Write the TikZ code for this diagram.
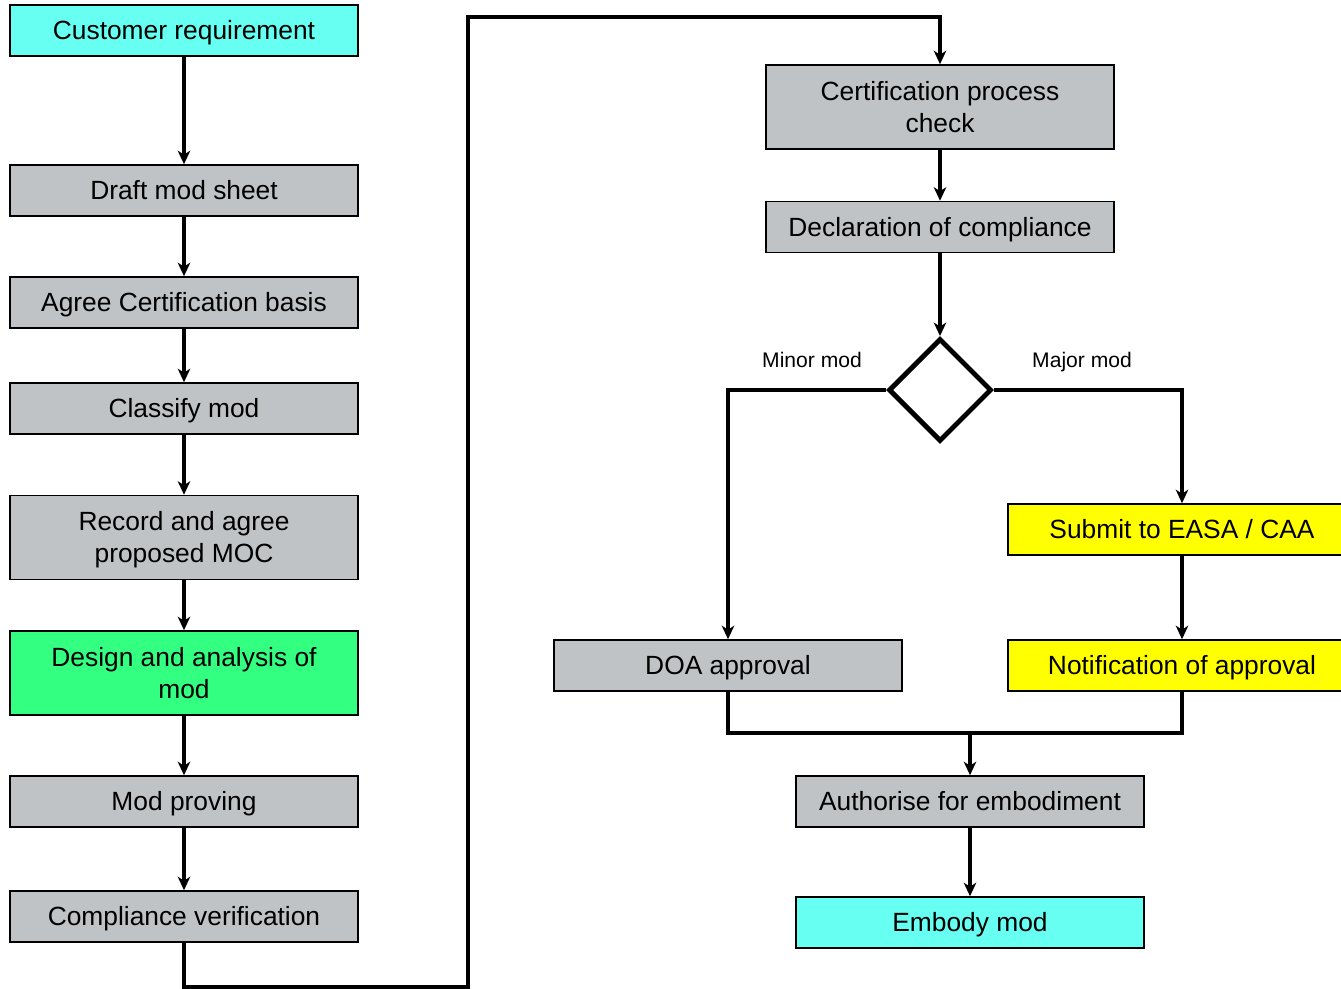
\documentclass[tikz,border=0pt]{standalone}
\usepackage{fontspec}
\setmainfont{Liberation Sans}
\usetikzlibrary{positioning,shapes.geometric,arrows.meta}

\definecolor{boxgray}{RGB}{192,195,198}
\definecolor{boxcyan}{RGB}{102,255,242}
\definecolor{boxgreen}{RGB}{51,255,128}
\definecolor{boxyellow}{RGB}{255,255,0}

\tikzset{
	stage/.style={draw, line width=0.9pt, fill=boxgray, minimum width=6.96cm,
		minimum height=1.02cm, inner sep=0pt, align=center,
		font=\fontsize{15}{18.2}\selectfont, text height=13.6pt, text depth=3.2pt},
	tallstage/.style={stage, minimum height=1.68cm, text height=31.8pt},
	flow/.style={line width=2pt, -{Stealth[length=0.27cm,width=0.25cm,inset=0.08cm]}},
	link/.style={line width=2pt},
	branch/.style={font=\fontsize{12}{14}\selectfont, text height=10.9pt, text depth=2.5pt}
}

\begin{document}
\begin{tikzpicture}[x=0.02cm, y=-0.02cm]
	\useasboundingbox (0,0) rectangle (1341,989);
	
	% 左列步骤
	\node[stage, fill=boxcyan] (cust) at (184,30.5) {Customer requirement};
	\node[stage] (draft) at (184,190.5) {Draft mod sheet};
	\node[stage] (basis) at (184,302.5) {Agree Certification basis};
	\node[stage] (classify) at (184,408.5) {Classify mod};
	\node[tallstage] (moc) at (184,537.5) {Record and agree\\proposed MOC};
	\node[tallstage, fill=boxgreen] (design) at (184,673) {Design and analysis of\\mod};
	\node[stage] (proving) at (184,801.5) {Mod proving};
	\node[stage] (verify) at (184,916.5) {Compliance verification};
	
	% 右列步骤
	\node[tallstage] (check) at (940,107) {Certification process\\check};
	\node[stage] (declare) at (940,227) {Declaration of compliance};
	\node[draw, diamond, line width=2.8pt, minimum width=2.06cm, minimum height=2.06cm,
		inner sep=0pt] (decide) at (940,390) {};
	\node[branch] (minor) at (812,360) {Minor mod};
	\node[branch] (major) at (1082,360) {Major mod};
	\node[stage, fill=boxyellow] (submit) at (1182,529.5) {Submit to EASA / CAA};
	\node[stage] (doa) at (728,665.5) {DOA approval};
	\node[stage, fill=boxyellow] (notify) at (1182,665.5) {Notification of approval};
	\node[stage] (authorise) at (970,801.5) {Authorise for embodiment};
	\node[stage, fill=boxcyan] (embody) at (970,922.5) {Embody mod};
	
	% 连线
	\draw[flow] (cust) -- (draft);
	\draw[flow] (draft) -- (basis);
	\draw[flow] (basis) -- (classify);
	\draw[flow] (classify) -- (moc);
	\draw[flow] (moc) -- (design);
	\draw[flow] (design) -- (proving);
	\draw[flow] (proving) -- (verify);
	
	\coordinate (bendL) at (468,987);
	\coordinate (bendT) at (468,17);
	\draw[flow] (verify.south) |- (bendL) -- (bendT) -| (check.north);
	
	\draw[flow] (check) -- (declare);
	\draw[flow] (declare) -- (decide.north);
	\draw[flow] (decide.west) -| (doa.north);
	\draw[flow] (decide.east) -| (submit.north);
	\draw[flow] (submit) -- (notify);
	
	\coordinate (merge) at (970,733);
	\draw[link] (doa.south) |- (merge) -| (notify.south);
	\draw[flow] (merge) -- (authorise.north);
	\draw[flow] (authorise) -- (embody);
\end{tikzpicture}
\end{document}
